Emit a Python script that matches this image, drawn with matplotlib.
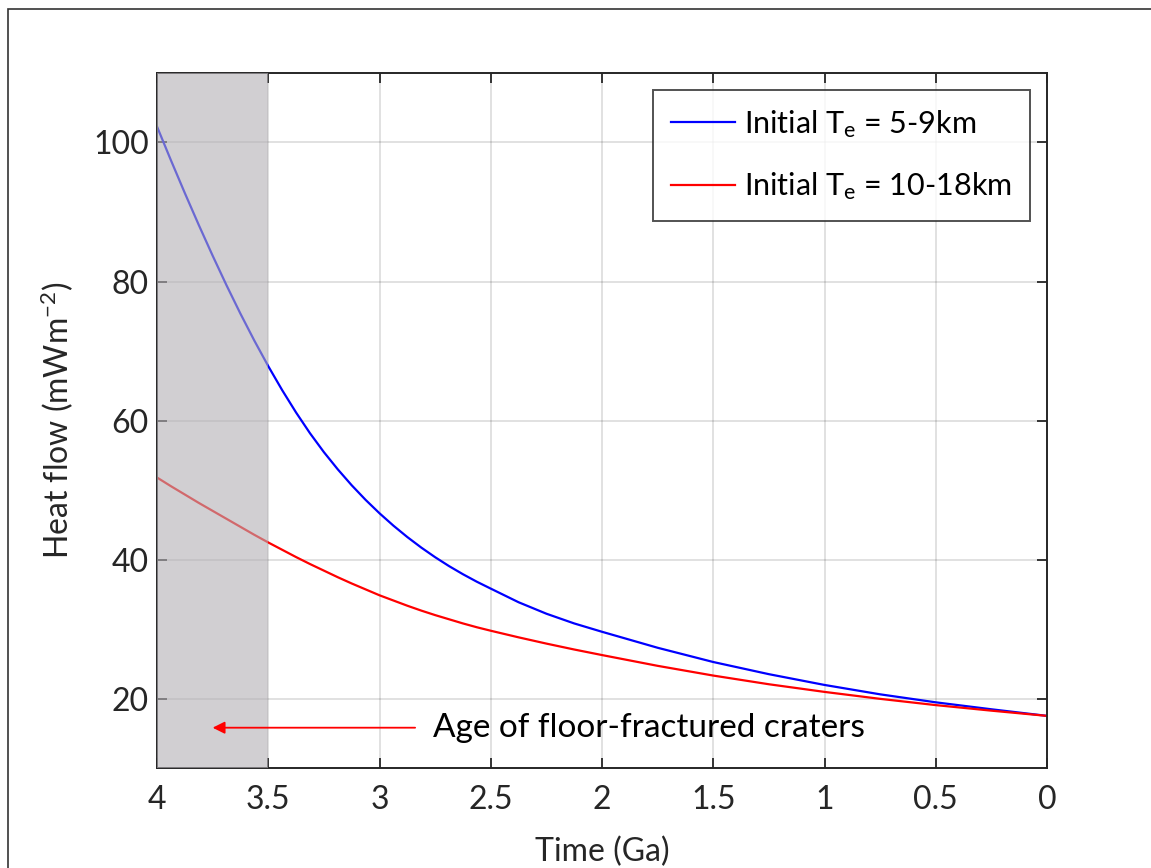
import matplotlib
matplotlib.use("Agg")
import matplotlib.pyplot as plt
from matplotlib.patches import Rectangle

plt.rcParams['font.family'] = ['Lato', 'DejaVu Sans']
plt.rcParams['mathtext.fontset'] = 'custom'
plt.rcParams['mathtext.rm'] = 'Lato'
plt.rcParams['mathtext.it'] = 'Lato'

# Time before present (Ga) and modelled surface heat flow (mW m^-2)
time_ga = [4.0, 3.9375, 3.875, 3.8125, 3.75, 3.6875, 3.625, 3.5625, 3.5,
           3.4375, 3.375, 3.3125, 3.25, 3.1875, 3.125, 3.0625, 3.0,
           2.9375, 2.875, 2.8125, 2.75, 2.6875, 2.625, 2.5625, 2.5,
           2.375, 2.25, 2.125, 2.0, 1.75, 1.5, 1.25, 1.0, 0.75, 0.5, 0.25, 0.0]
flow_thin = [102.3, 97.45, 92.73, 88.15, 83.72, 79.45, 75.37, 71.49, 67.82,
             64.37, 61.15, 58.17, 55.45, 52.97, 50.68, 48.58, 46.65,
             44.87, 43.23, 41.72, 40.33, 39.05, 37.88, 36.8, 35.81,
             33.85, 32.2, 30.8, 29.6, 27.3, 25.25, 23.5, 21.95, 20.6, 19.45, 18.45, 17.5]
flow_thick = [51.8, 50.55, 49.35, 48.15, 47.0, 45.85, 44.7, 43.55, 42.45,
              41.4, 40.35, 39.35, 38.4, 37.45, 36.55, 35.7, 34.85,
              34.1, 33.35, 32.65, 32.0, 31.4, 30.8, 30.25, 29.75,
              28.8, 27.9, 27.05, 26.25, 24.7, 23.3, 22.05, 20.95, 19.95, 19.05, 18.25, 17.5]
series_labels = ["Initial T$_\\mathregular{e}$ = 5-9km",
                 "Initial T$_\\mathregular{e}$ = 10-18km"]

# Age window of floor-fractured craters
ffc_age = (3.5, 4.0)

x_ticks = [4, 3.5, 3, 2.5, 2, 1.5, 1, 0.5, 0]
x_ticklabels = ["4", "3.5", "3", "2.5", "2", "1.5", "1", "0.5", "0"]
y_ticks = [20, 40, 60, 80, 100]

ink = "#262626"

fig = plt.figure(figsize=(11.51, 8.68), dpi=100)
ax = fig.add_axes([0.1364, 0.1152, 0.7733, 0.8007])

ax.plot(time_ga, flow_thin, color=(0, 0, 1), lw=1.6, label=series_labels[0], zorder=2)
ax.plot(time_ga, flow_thick, color=(1, 0, 0), lw=1.6, label=series_labels[1], zorder=2)

ax.axvspan(ffc_age[0], ffc_age[1], facecolor=(0.7, 0.69, 0.71), alpha=0.6,
           edgecolor="none", zorder=3)

ax.annotate("", xy=(3.75, 15.8), xytext=(2.84, 15.8),
            arrowprops=dict(arrowstyle="-|>", color="red", lw=1.3,
                            mutation_scale=18, shrinkA=0, shrinkB=0),
            zorder=4)
ax.text(2.76, 15.8, "Age of floor-fractured craters", fontsize=24,
        color="black", va="center", ha="left", zorder=4)

ax.set_xlim(4, 0)
ax.set_ylim(10, 110)
ax.set_xticks(x_ticks)
ax.set_xticklabels(x_ticklabels)
ax.set_yticks(y_ticks)

ax.grid(True, color="#000000", alpha=0.13, lw=1.3)
ax.set_axisbelow(True)
ax.tick_params(direction="in", length=7, width=1.3, colors=ink,
               labelsize=23, top=True, right=True)
ax.tick_params(axis="x", pad=12)
ax.tick_params(axis="y", pad=6)
for s in ax.spines.values():
    s.set_color(ink)
    s.set_linewidth(1.4)

ax.set_xlabel("Time (Ga)", fontsize=23, color=ink, labelpad=16)
ax.set_ylabel("Heat flow (mWm$^{\\mathregular{-2}}$)", fontsize=23, color=ink, labelpad=12)

leg = ax.legend(loc="upper right", fontsize=22, frameon=True, fancybox=False,
                edgecolor=ink, handlelength=2.1, handletextpad=0.3,
                borderpad=0.6, labelspacing=1.0, borderaxespad=0.55)
leg.get_frame().set_linewidth(1.4)
leg.set_zorder(5)

# outer frame
W, H = 1151, 868
fig.patches.append(Rectangle((8 / W, -0.1), 1.2, 1.1 - 9 / H,
                             transform=fig.transFigure, fill=False,
                             edgecolor="#333333", lw=1.2))

fig.savefig("out.png", dpi=100)
